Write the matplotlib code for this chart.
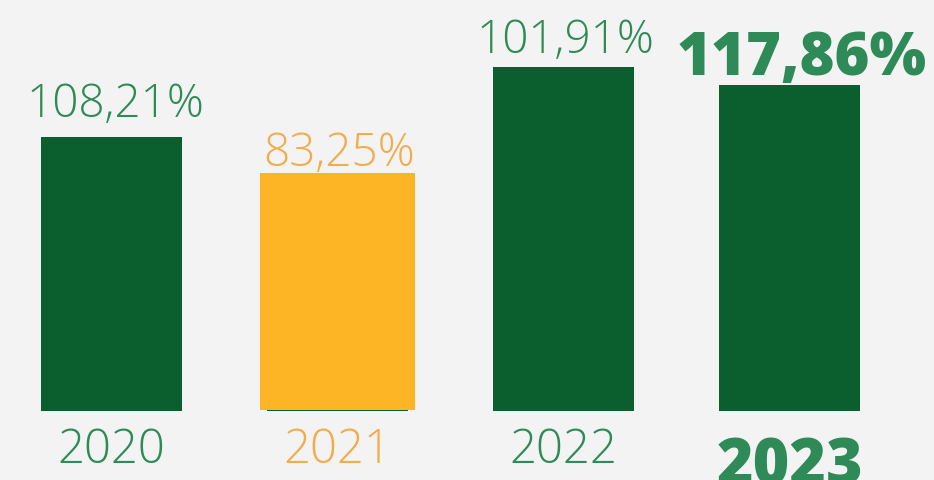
import matplotlib.pyplot as plt

# datos
years = ['2020', '2021', '2022', '2023']
value_labels = ['108,21%', '83,25%', '101,91%', '117,86%']
bar_heights = [274, 238, 344, 326]  # alturas tal como aparecen en la imagen

dark_green = '#0b5e2e'
text_green = '#2e8b57'
yellow = '#fdb525'
text_yellow = '#f2ac4b'
bg = '#f3f3f3'

plt.rcParams['font.family'] = ['Open Sans', 'DejaVu Sans']

fig = plt.figure(figsize=(9.34, 4.8), dpi=100, facecolor=bg)
ax = fig.add_axes([0, 69 / 480, 1, 411 / 480])
ax.set_facecolor(bg)

x = list(range(len(years)))
ax.bar(x, bar_heights, width=0.624, color=dark_green)
# 2021 resaltado en amarillo
ax.bar(1, bar_heights[1] - 1, bottom=1, width=0.686, color=yellow)

ax.set_xlim(-0.4934, 3.639)
ax.set_ylim(0, 411)
ax.axis('off')

label_colors = [text_green, text_yellow, text_green, text_green]
label_weights = ['light', 'light', 'light', 'heavy']
label_sizes = [33, 33, 33, 43]
label_dx = [3, 1, 1, 9]             # puntos a la derecha del centro
label_offsets = [14.4, 5, 10, 7.2]  # puntos sobre la barra
year_offsets = [-37.4, -37.4, -37.4, -52.6]
year_sizes = [34, 34, 34, 45]

for i in x:
    ax.annotate(value_labels[i], xy=(i, bar_heights[i]),
                xytext=(label_dx[i], label_offsets[i]), textcoords='offset points',
                ha='center', va='baseline', color=label_colors[i],
                fontsize=label_sizes[i], fontweight=label_weights[i],
                annotation_clip=False)
    ax.annotate(years[i], xy=(i, 0),
                xytext=(0, year_offsets[i]), textcoords='offset points',
                ha='center', va='baseline', color=label_colors[i],
                fontsize=year_sizes[i], fontweight=label_weights[i],
                annotation_clip=False)

fig.savefig('out.png', dpi=100, facecolor=bg)
